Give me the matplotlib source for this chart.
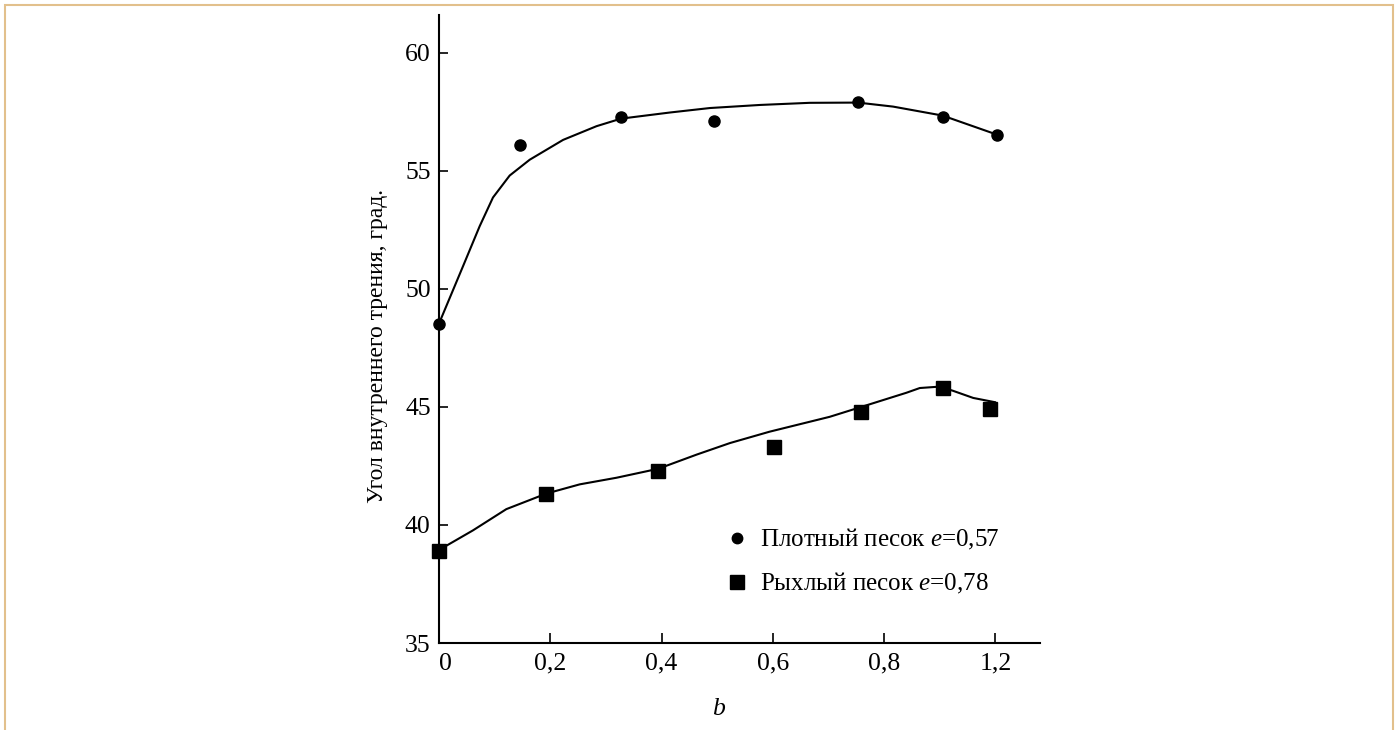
import matplotlib
matplotlib.use("Agg")
import matplotlib.pyplot as plt
from matplotlib.lines import Line2D
from matplotlib.patches import Rectangle

plt.rcParams["font.family"] = ["Liberation Serif", "DejaVu Serif"]
plt.rcParams["mathtext.fontset"] = "custom"
plt.rcParams["mathtext.rm"] = "Liberation Serif"
plt.rcParams["mathtext.it"] = "Liberation Serif:italic"

# dense sand, e = 0.57
dense_b = [0, 0.145, 0.327, 0.494, 0.753, 0.905, 1.003]
dense_phi = [48.5, 56.1, 57.3, 57.1, 57.9, 57.3, 56.5]
dense_fit_b = [0, 0.043, 0.073, 0.097, 0.127, 0.163, 0.223, 0.283, 0.327,
               0.415, 0.487, 0.577, 0.666, 0.753, 0.816, 0.905, 1.003]
dense_fit_phi = [48.53, 50.95, 52.65, 53.87, 54.8, 55.47, 56.31, 56.89, 57.21,
                 57.47, 57.66, 57.79, 57.88, 57.89, 57.72, 57.34, 56.53]

# loose sand, e = 0.78
loose_b = [0, 0.193, 0.394, 0.602, 0.759, 0.905, 0.991]
loose_phi = [38.9, 41.3, 42.3, 43.3, 44.8, 45.8, 44.9]
loose_fit_b = [0, 0.061, 0.121, 0.193, 0.253, 0.319, 0.394, 0.463, 0.523,
               0.594, 0.702, 0.759, 0.840, 0.864, 0.900, 0.924, 0.960, 0.999]
loose_fit_phi = [38.94, 39.77, 40.67, 41.33, 41.72, 42.0, 42.38, 42.98, 43.47,
                 43.95, 44.58, 45.0, 45.6, 45.8, 45.86, 45.68, 45.38, 45.2]

x_ticks = [0, 0.2, 0.4, 0.6, 0.8, 1.0]
x_tick_labels = ["0", "0,2", "0,4", "0,6", "0,8", "1,2"]
y_ticks = [35, 40, 45, 50, 55, 60]

W, H = 1396, 730
fig = plt.figure(figsize=(W / 100, H / 100), dpi=100)
ax = fig.add_axes([439 / W, 1 - 643 / H, 601 / W, 628 / H])

ax.plot(dense_fit_b, dense_fit_phi, color="black", lw=1.5, zorder=2)
ax.plot(loose_fit_b, loose_fit_phi, color="black", lw=1.5, zorder=2)
ax.plot(dense_b, dense_phi, "o", color="black", ms=8, ls="none", zorder=3, clip_on=False)
ax.plot(loose_b, loose_phi, "s", color="black", ms=10, ls="none", zorder=3, clip_on=False)

ax.set_xlim(0, 1.08)
ax.set_ylim(35, 61.6)
ax.set_xticks(x_ticks)
ax.set_xticklabels(x_tick_labels)
ax.get_xticklabels()[0].set_ha("left")
ax.set_yticks(y_ticks)

for side in ("top", "right"):
    ax.spines[side].set_visible(False)
for side in ("left", "bottom"):
    ax.spines[side].set_linewidth(1.5)
ax.tick_params(axis="x", direction="in", length=7.5, width=1.2, pad=7, labelsize=18.5)
ax.tick_params(axis="y", direction="in", length=6.5, width=1.2, pad=6, labelsize=18.5)

ax.set_xlabel("b", fontsize=18.5, fontstyle="italic")
ax.xaxis.set_label_coords((718 - 439) / 601, -0.088)
fig.text(378 / W, 1 - 346 / H, "Угол внутреннего трения, град.", rotation=90,
         ha="center", va="center", fontsize=17)

handles = [
    Line2D([], [], marker="o", color="black", ls="none", ms=7.5),
    Line2D([], [], marker="s", color="black", ls="none", ms=10.5),
]
labels = ["Плотный песок $e$=0,57", "Рыхлый песок $e$=0,78"]
ax.legend(handles, labels, loc="upper left", frameon=False, fontsize=18,
          bbox_to_anchor=(727 / W, 1 - 527 / H), bbox_transform=fig.transFigure,
          borderpad=0, borderaxespad=0, handlelength=0.8, handletextpad=0.5,
          labelspacing=0.75)

fig.patches.append(Rectangle((5 / W, -0.05), 1388 / W, 1 - 5 / H + 0.05,
                             transform=fig.transFigure, fill=False,
                             edgecolor="#e2c08c", lw=1.5))

fig.savefig("out.png", dpi=100)
